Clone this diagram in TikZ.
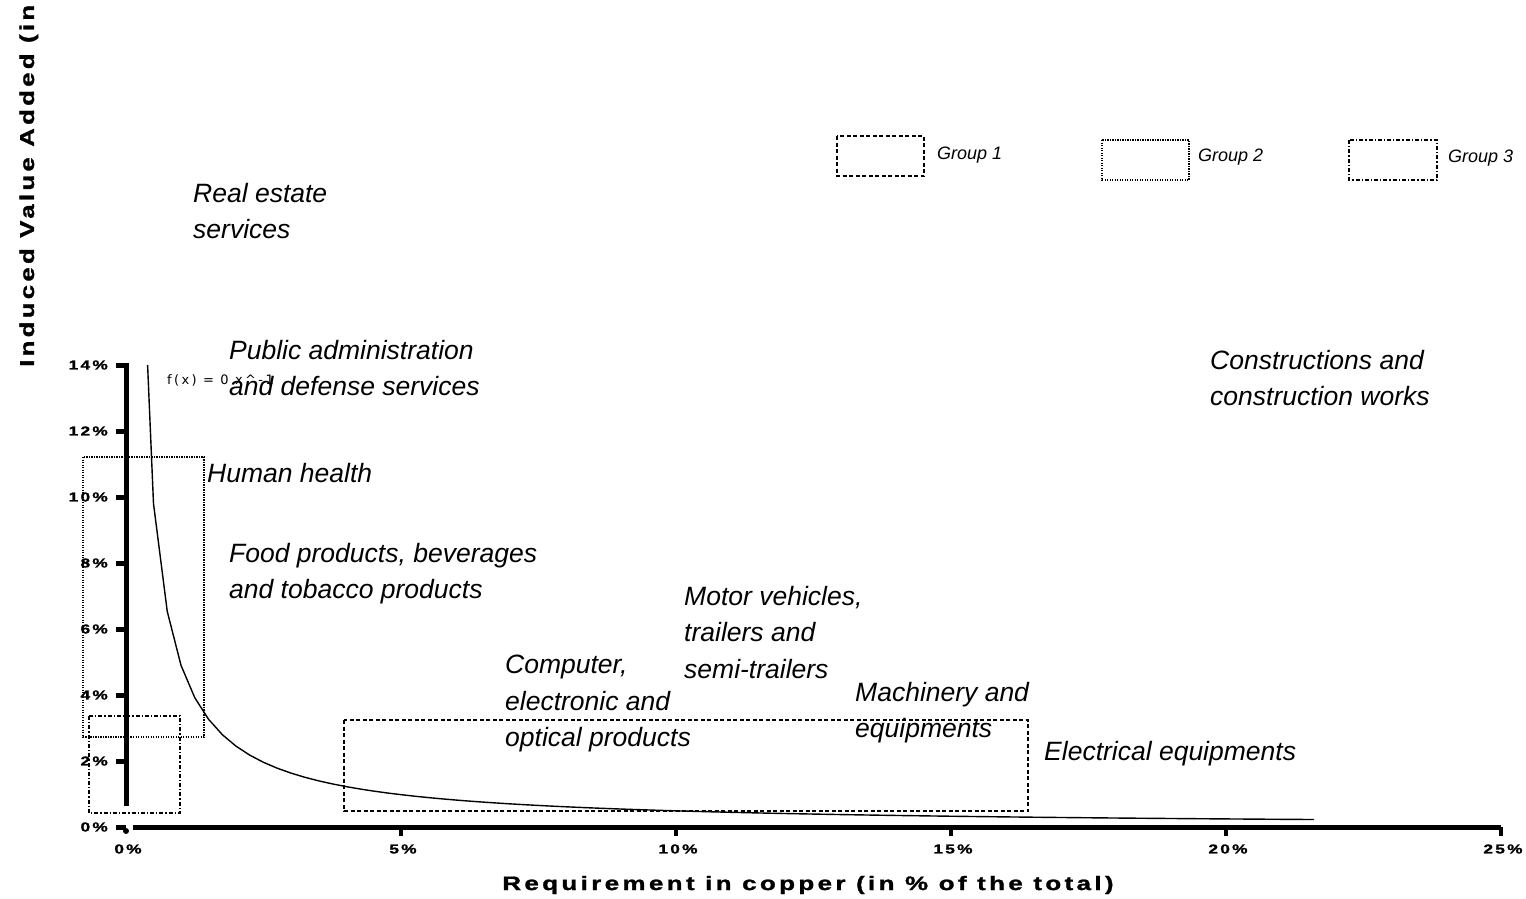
\documentclass[tikz,border=0pt]{standalone}
\usepackage{fontspec}
\setmainfont{Liberation Sans}
\newfontfamily\widebold{Liberation Sans Bold}[FakeBold=1.2, LetterSpace=13]
\newfontfamily\eqfont{DejaVu Sans}[LetterSpace=18]
\newcommand\stretchtext[2]{\scalebox{#1}[1]{#2}}
\begin{document}
\begin{tikzpicture}[x=1pt,y=-1pt,
  lab/.style={anchor=north west, inner sep=0pt, align=left, font=\fontsize{26.5}{36.5}\selectfont\itshape},
  leglab/.style={anchor=north west, inner sep=0pt, font=\fontsize{18}{20}\selectfont\itshape},
  ticklab/.style={inner sep=0pt, font=\fontsize{13}{15}\selectfont\widebold},
  axlab/.style={inner sep=0pt, font=\fontsize{19.5}{22}\selectfont\widebold},
  axisline/.style={line width=5pt},
  grpone/.style={line width=1.5pt, dash pattern=on 4pt off 2.5pt},
  grptwo/.style={line width=1.5pt, dash pattern=on 1.3pt off 1.2pt},
  grpthree/.style={line width=1.5pt, dash pattern=on 4pt off 2pt on 1.3pt off 2pt},
  trend/.style={line width=1.4pt}]
\useasboundingbox (0,0) rectangle (1526,899);

% group boxes
\draw[grptwo] (83,457) rectangle (204,737);
\draw[grpthree] (89,716) rectangle (180,813);
\draw[grpone] (344,720) rectangle (1028,811);

% axes
\draw[axisline] (126,363) -- (126,806);
\draw[axisline] (133,827) -- (1501,827);
\fill (126,831) circle (3);
\foreach \f/\t in {0/0\%,2/2\%,4/4\%,6/6\%,8/8\%,10/10\%,12/12\%,14/14\%}{
  \draw[line width=5pt] (116,{827-33*\f}) -- (126,{827-33*\f});
  \node[ticklab, anchor=east] (yt\f) at (108,{827-33*\f}) {\stretchtext{1.33}{\t}};
}
\foreach \p/\t in {0/0\%,5/5\%,10/10\%,15/15\%,20/20\%,25/25\%}{
  \ifnum\p>0 \draw[line width=4pt] ({126+55*\p},827) -- ({126+55*\p},836);\fi
  \node[ticklab] (xt\p) at ({128+55*\p},849) {\stretchtext{1.33}{\t}};
}

% trend curve
\draw[trend] (147.6,365) -- plot[domain=0.5:21.5, samples=85] ({126+55*\x},{827-33*4.9/\x}) -- ({126+55*21.6},{827-33*4.9/21.6});
\node[inner sep=0pt, anchor=west, font=\fontsize{13}{15}\selectfont\eqfont] (eq) at (167,380) {f(x) = 0 x\^{}-1};

% axis titles
\node[axlab] (xtitle) at (808,885) {\stretchtext{1.33}{Requirement in copper (in \% of the total)}};
\node[axlab, rotate=90, anchor=base west, font=\fontsize{20}{22}\selectfont\widebold] (ytitle) at (34,367) {\stretchtext{1.285}{Induced Value Added (in}};

% sector labels
\node[lab] (realestate) at (193,183) {Real estate\\services};
\node[lab] (publicadmin) at (229,340) {Public administration\\and defense services};
\node[lab] (construct) at (1210,350) {Constructions and\\construction works};
\node[lab] (health) at (207,463) {Human health};
\node[lab] (food) at (229,543) {Food products, beverages\\and tobacco products};
\node[lab] (motor) at (684,586) {Motor vehicles,\\trailers and\\semi-trailers};
\node[lab] (computer) at (505,655) {Computer,\\electronic and\\optical products};
\node[lab] (machinery) at (855,682) {Machinery and\\equipments};
\node[lab] (electrical) at (1044,741) {Electrical equipments};

% legend
\draw[grpone] (837,136) rectangle (924,176);
\node[leglab] (g1) at (937,147) {Group 1};
\draw[grptwo] (1102,140) rectangle (1189,180);
\node[leglab] (g2) at (1198,149) {Group 2};
\draw[grpthree] (1349,140) rectangle (1437,180);
\node[leglab] (g3) at (1448,150) {Group 3};
\end{tikzpicture}
\end{document}
